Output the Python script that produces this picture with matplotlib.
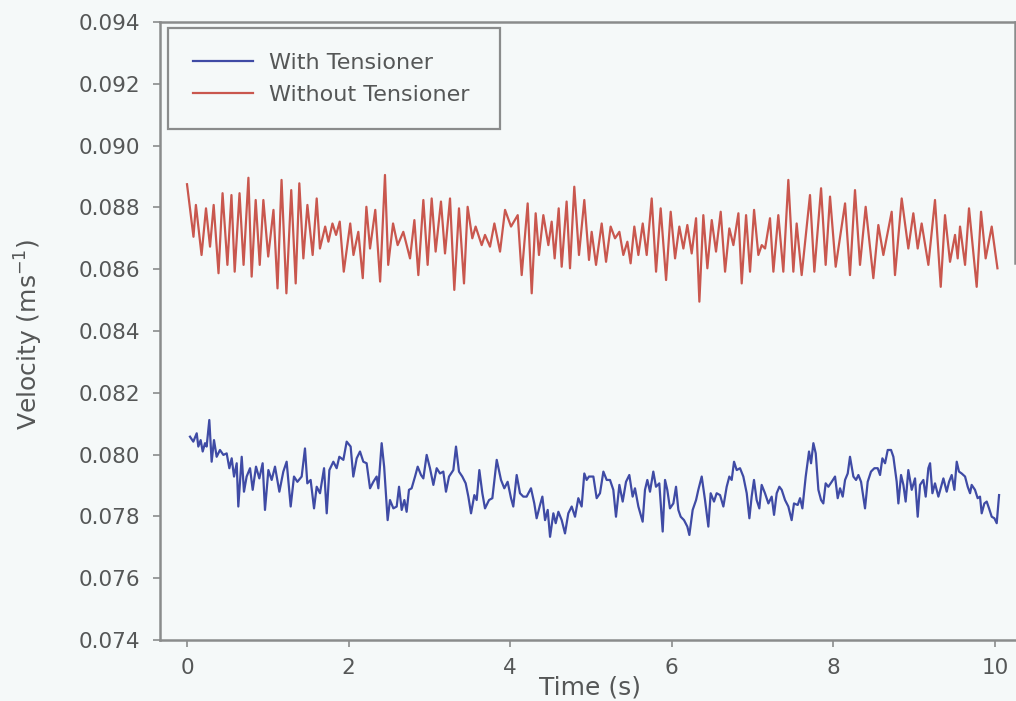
import matplotlib
matplotlib.use("Agg")
import matplotlib.pyplot as plt

# values (time in s, velocity in m/s)
t_without = [0.00, 0.08, 0.11, 0.18, 0.235, 0.285, 0.33, 0.39, 0.44, 0.50, 0.55, 0.59, 0.65, 0.70,
             0.76, 0.80, 0.85, 0.90, 0.945, 1.005, 1.07, 1.12, 1.17, 1.23, 1.29, 1.345, 1.39, 1.44,
             1.49, 1.555, 1.605, 1.645, 1.71, 1.75, 1.80, 1.845, 1.89, 1.94, 2.02, 2.06, 2.12, 2.175,
             2.22, 2.265, 2.33, 2.39, 2.45, 2.49, 2.55, 2.607, 2.677, 2.76, 2.814, 2.863, 2.925, 2.978,
             3.028, 3.077, 3.143, 3.193, 3.255, 3.308, 3.366, 3.428, 3.473, 3.531, 3.572, 3.647, 3.688,
             3.75, 3.804, 3.874, 3.936, 4.01, 4.093, 4.142, 4.216, 4.266, 4.315, 4.356, 4.41, 4.472,
             4.513, 4.55, 4.60, 4.637, 4.698, 4.740, 4.793, 4.851, 4.917, 4.975, 5.008, 5.062, 5.132,
             5.186, 5.243, 5.297, 5.351, 5.40, 5.45, 5.49, 5.536, 5.586, 5.64, 5.689, 5.751, 5.805,
             5.862, 5.929, 5.986, 6.04, 6.093, 6.143, 6.192, 6.246, 6.30, 6.341, 6.39, 6.44, 6.494,
             6.547, 6.605, 6.659, 6.712, 6.762, 6.824, 6.865, 6.919, 6.968, 7.018, 7.071, 7.113, 7.154,
             7.215, 7.257, 7.318, 7.38, 7.442, 7.504, 7.545, 7.607, 7.71, 7.764, 7.847, 7.904, 7.958,
             8.028, 8.144, 8.205, 8.267, 8.329, 8.399, 8.494, 8.556, 8.618, 8.721, 8.762, 8.845, 8.927,
             8.989, 9.043, 9.092, 9.175, 9.257, 9.328, 9.381, 9.443, 9.505, 9.538, 9.567, 9.629, 9.678,
             9.773, 9.827, 9.884, 9.959, 10.03]
v_without = [0.08875, 0.08705, 0.08808, 0.08646, 0.08797, 0.08673, 0.08808, 0.08587, 0.08846, 0.08614,
             0.08840, 0.08592, 0.08846, 0.08614, 0.08896, 0.08576, 0.08824, 0.08614, 0.08824, 0.08641,
             0.08792, 0.08538, 0.08889, 0.08522, 0.08856, 0.08554, 0.08878, 0.08635, 0.08808, 0.08646,
             0.08829, 0.08667, 0.08738, 0.08689, 0.08748, 0.08711, 0.08754, 0.08592, 0.08748, 0.08646,
             0.08721, 0.08571, 0.08802, 0.08667, 0.08792, 0.08560, 0.08905, 0.08614, 0.08748, 0.08678,
             0.08721, 0.08635, 0.08759, 0.08581, 0.08824, 0.08614, 0.08829, 0.08657, 0.08819, 0.08651,
             0.08829, 0.08533, 0.08797, 0.08554, 0.08802, 0.08700, 0.08738, 0.08678, 0.08711, 0.08673,
             0.08748, 0.08657, 0.08792, 0.08738, 0.08775, 0.08581, 0.08813, 0.08522, 0.08781, 0.08646,
             0.08775, 0.08678, 0.08754, 0.08635, 0.08797, 0.08608, 0.08819, 0.08603, 0.08867, 0.08646,
             0.08824, 0.08630, 0.08721, 0.08614, 0.08748, 0.08624, 0.08738, 0.08700, 0.08721, 0.08646,
             0.08689, 0.08619, 0.08738, 0.08646, 0.08748, 0.08646, 0.08829, 0.08592, 0.08797, 0.08565,
             0.08786, 0.08635, 0.08738, 0.08667, 0.08743, 0.08651, 0.08765, 0.08495, 0.08775, 0.08603,
             0.08759, 0.08657, 0.08786, 0.08592, 0.08732, 0.08678, 0.08781, 0.08554, 0.08775, 0.08592,
             0.08792, 0.08646, 0.08678, 0.08667, 0.08765, 0.08592, 0.08775, 0.08592, 0.08889, 0.08592,
             0.08748, 0.08581, 0.08840, 0.08592, 0.08862, 0.08614, 0.08835, 0.08608, 0.08813, 0.08581,
             0.08856, 0.08614, 0.08802, 0.08571, 0.08743, 0.08646, 0.08786, 0.08581, 0.08829, 0.08667,
             0.08781, 0.08667, 0.08748, 0.08614, 0.08824, 0.08543, 0.08775, 0.08624, 0.08711, 0.08635,
             0.08738, 0.08614, 0.08797, 0.08543, 0.08786, 0.08635, 0.08738, 0.08603]

t_with = [0.037, 0.078, 0.12, 0.14, 0.169, 0.194, 0.223, 0.243, 0.276, 0.305, 0.334, 0.367, 0.408, 0.45,
          0.491, 0.524, 0.553, 0.582, 0.615, 0.635, 0.677, 0.705, 0.738, 0.78, 0.813, 0.854, 0.895,
          0.936, 0.965, 1.007, 1.048, 1.089, 1.143, 1.192, 1.233, 1.283, 1.324, 1.366, 1.419, 1.46,
          1.489, 1.53, 1.572, 1.605, 1.646, 1.696, 1.729, 1.762, 1.811, 1.852, 1.885, 1.935, 1.976,
          2.025, 2.058, 2.1, 2.141, 2.182, 2.223, 2.265, 2.306, 2.347, 2.368, 2.409, 2.44, 2.483,
          2.512, 2.554, 2.595, 2.624, 2.657, 2.69, 2.718, 2.747, 2.78, 2.822, 2.855, 2.896, 2.925,
          2.966, 3.007, 3.049, 3.09, 3.131, 3.172, 3.205, 3.243, 3.296, 3.329, 3.366, 3.407, 3.449,
          3.482, 3.515, 3.556, 3.585, 3.618, 3.655, 3.688, 3.738, 3.779, 3.833, 3.886, 3.927, 3.968,
          4.01, 4.038, 4.08, 4.121, 4.162, 4.203, 4.257, 4.298, 4.327, 4.369, 4.398, 4.431, 4.464,
          4.493, 4.534, 4.563, 4.596, 4.637, 4.678, 4.719, 4.761, 4.802, 4.843, 4.884, 4.917, 4.946,
          4.975, 5.029, 5.07, 5.111, 5.153, 5.194, 5.235, 5.276, 5.309, 5.351, 5.392, 5.433, 5.474,
          5.515, 5.544, 5.586, 5.639, 5.668, 5.697, 5.73, 5.771, 5.804, 5.845, 5.887, 5.916, 5.944,
          5.977, 6.019, 6.052, 6.081, 6.11, 6.151, 6.192, 6.217, 6.258, 6.3, 6.328, 6.37, 6.411,
          6.452, 6.481, 6.522, 6.555, 6.597, 6.638, 6.679, 6.712, 6.741, 6.77, 6.803, 6.844, 6.885,
          6.927, 6.96, 6.988, 7.017, 7.05, 7.083, 7.112, 7.153, 7.195, 7.236, 7.265, 7.298, 7.331,
          7.36, 7.401, 7.442, 7.483, 7.512, 7.558, 7.587, 7.616, 7.657, 7.698, 7.723, 7.752, 7.781,
          7.814, 7.847, 7.875, 7.904, 7.937, 7.979, 8.02, 8.053, 8.082, 8.115, 8.144, 8.177, 8.205,
          8.247, 8.28, 8.309, 8.342, 8.391, 8.424, 8.465, 8.507, 8.548, 8.577, 8.606, 8.639, 8.672,
          8.713, 8.742, 8.783, 8.804, 8.837, 8.866, 8.894, 8.927, 8.969, 9.01, 9.043, 9.072, 9.113,
          9.142, 9.175, 9.196, 9.225, 9.257, 9.299, 9.332, 9.361, 9.402, 9.431, 9.464, 9.497, 9.526,
          9.554, 9.587, 9.629, 9.662, 9.691, 9.711, 9.752, 9.785, 9.814, 9.835, 9.868, 9.897, 9.926,
          9.959, 9.992, 10.021, 10.05]
v_with = [0.08058, 0.08042, 0.08069, 0.08026, 0.08047, 0.08010, 0.08037, 0.08026, 0.08112, 0.07977,
          0.08047, 0.07993, 0.08015, 0.07999, 0.08004, 0.07956, 0.07988, 0.07929, 0.07972, 0.07832,
          0.07993, 0.07880, 0.07929, 0.07956, 0.07886, 0.07961, 0.07923, 0.07972, 0.07821, 0.07950,
          0.07918, 0.07961, 0.07880, 0.07945, 0.07977, 0.07832, 0.07929, 0.07912, 0.07929, 0.08020,
          0.07907, 0.07918, 0.07826, 0.07896, 0.07875, 0.07956, 0.07810, 0.07950, 0.07977, 0.07956,
          0.07993, 0.07983, 0.08042, 0.08026, 0.07929, 0.07988, 0.08010, 0.07977, 0.07972, 0.07891,
          0.07912, 0.07929, 0.07891, 0.08037, 0.07960, 0.07788, 0.07853, 0.07826, 0.07832, 0.07896,
          0.07821, 0.07853, 0.07815, 0.07886, 0.07891, 0.07929, 0.07961, 0.07934, 0.07923, 0.07999,
          0.07956, 0.07902, 0.07956, 0.07939, 0.07945, 0.07880, 0.07929, 0.07950, 0.08026, 0.07945,
          0.07929, 0.07907, 0.07864, 0.07810, 0.07869, 0.07853, 0.07950, 0.07875, 0.07826, 0.07853,
          0.07859, 0.07983, 0.07918, 0.07891, 0.07912, 0.07859, 0.07832, 0.07934, 0.07875, 0.07864,
          0.07864, 0.07891, 0.07842, 0.07794, 0.07837, 0.07864, 0.07788, 0.07821, 0.07734, 0.07810,
          0.07778, 0.07815, 0.07788, 0.07745, 0.07810, 0.07832, 0.07799, 0.07859, 0.07832, 0.07939,
          0.07918, 0.07929, 0.07929, 0.07859, 0.07875, 0.07945, 0.07918, 0.07918, 0.07886, 0.07799,
          0.07902, 0.07848, 0.07912, 0.07934, 0.07864, 0.07891, 0.07832, 0.07783, 0.07886, 0.07918,
          0.07880, 0.07945, 0.07896, 0.07907, 0.07751, 0.07918, 0.07886, 0.07826, 0.07842, 0.07896,
          0.07821, 0.07799, 0.07788, 0.07767, 0.07740, 0.07821, 0.07853, 0.07886, 0.07929, 0.07853,
          0.07767, 0.07875, 0.07848, 0.07875, 0.07869, 0.07832, 0.07896, 0.07929, 0.07918, 0.07977,
          0.07950, 0.07956, 0.07929, 0.07875, 0.07794, 0.07864, 0.07918, 0.07853, 0.07826, 0.07902,
          0.07875, 0.07842, 0.07864, 0.07805, 0.07875, 0.07896, 0.07886, 0.07853, 0.07832, 0.07788,
          0.07842, 0.07837, 0.07859, 0.07826, 0.07929, 0.08010, 0.07972, 0.08037, 0.08004, 0.07886,
          0.07853, 0.07842, 0.07907, 0.07896, 0.07912, 0.07929, 0.07859, 0.07891, 0.07864, 0.07918,
          0.07939, 0.07993, 0.07929, 0.07918, 0.07934, 0.07912, 0.07826, 0.07912, 0.07945, 0.07956,
          0.07956, 0.07934, 0.07988, 0.07972, 0.08015, 0.08015, 0.07993, 0.07912, 0.07842, 0.07934,
          0.07902, 0.07848, 0.07950, 0.07886, 0.07923, 0.07799, 0.07902, 0.07918, 0.07864, 0.07956,
          0.07972, 0.07875, 0.07907, 0.07864, 0.07896, 0.07923, 0.07880, 0.07912, 0.07934, 0.07886,
          0.07977, 0.07945, 0.07939, 0.07929, 0.07896, 0.07875, 0.07902, 0.07886, 0.07859, 0.07864,
          0.07810, 0.07842, 0.07848, 0.07826, 0.07799, 0.07794, 0.07778, 0.07869]

x_ticks = [0, 2, 4, 6, 8, 10]
y_ticks = [0.074, 0.076, 0.078, 0.080, 0.082, 0.084, 0.086, 0.088, 0.090, 0.092, 0.094]

bg = "#f5f9f9"
grey = "#555757"
spine_col = "#8a8c8c"

plt.rcParams["font.family"] = ["DejaVu Sans"]

fig = plt.figure(figsize=(10.16, 7.01), dpi=100, facecolor=bg)
ax = fig.add_axes([0.1575, 0.087, 0.8415, 0.8816], facecolor=bg)

ax.plot(t_with, v_with, color="#3f4ba5", lw=1.6, label="With Tensioner")
ax.plot(t_without, v_without, color="#c9574e", lw=1.6, label="Without Tensioner")

ax.set_xlim(-0.334, 10.247)
ax.set_ylim(0.074, 0.094)
ax.set_xticks(x_ticks)
ax.set_xticklabels([str(v) for v in x_ticks])
ax.set_yticks(y_ticks)
ax.set_yticklabels(["%.3f" % v for v in y_ticks])

ax.tick_params(axis="both", direction="out", length=5, width=1.2, colors=spine_col,
               labelcolor=grey, labelsize=15.5)
ax.tick_params(axis="y", pad=9)
ax.tick_params(axis="x", pad=8)

for side in ["left", "top", "bottom", "right"]:
    ax.spines[side].set_color(spine_col)
    ax.spines[side].set_linewidth(1.8)
ax.spines["right"].set_bounds(0.0862, 0.094)

ax.set_xlabel("Time (s)", fontsize=18, color=grey)
ax.xaxis.set_label_coords(0.503, -0.058)
ax.set_ylabel("Velocity (ms$^{-1}$)", fontsize=18, color=grey)
ax.yaxis.set_label_coords(-0.135, 0.494)

leg = ax.legend(loc="upper left", bbox_to_anchor=(0.0094, 0.990, 0.388, 0.0), mode="expand",
                borderaxespad=0, fontsize=16, frameon=True, fancybox=False,
                handlelength=2.7, handletextpad=0.75, borderpad=1.1, labelspacing=0.55)
leg.get_frame().set_edgecolor(spine_col)
leg.get_frame().set_linewidth(1.6)
leg.get_frame().set_facecolor(bg)
leg.get_frame().set_alpha(1)
for txt in leg.get_texts():
    txt.set_color(grey)

fig.savefig("out.png", dpi=100, facecolor=bg)
